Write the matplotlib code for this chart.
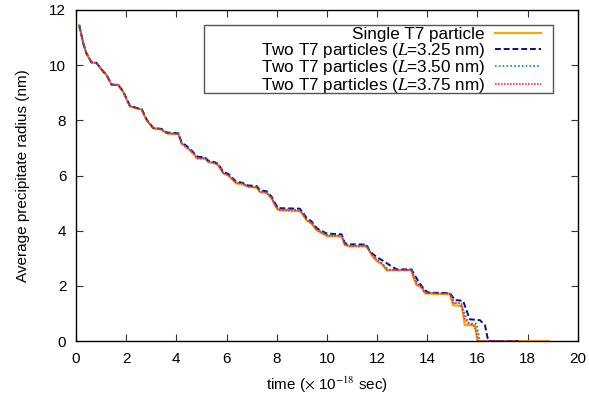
import matplotlib
matplotlib.use("Agg")
import matplotlib.pyplot as plt
from matplotlib.patches import Rectangle

plt.rcParams['font.family'] = ['Liberation Sans', 'DejaVu Sans']
plt.rcParams['mathtext.fontset'] = 'stix'

# ---- data (time in 1e-18 sec, radius in nm) ----
t_single = [0.13, 0.29, 0.42, 0.62, 0.82, 1.02, 1.22, 1.42, 1.69, 1.88, 2.15, 2.42, 2.62, 2.82,
            3.08, 3.41, 3.61, 4.08, 4.21, 4.34, 4.54, 4.74, 4.81, 5.14, 5.27, 5.54, 5.67, 5.87,
            6.07, 6.27, 6.40, 6.60, 6.87, 7.20, 7.33, 7.60, 7.80, 7.93, 8.06, 8.92, 9.06, 9.19,
            9.39, 9.59, 9.72, 9.99, 10.59, 10.72, 10.92, 11.58, 11.71, 11.85, 12.04, 12.18, 12.38,
            13.37, 13.44, 13.57, 13.77, 13.90, 14.90, 15.03, 15.37, 15.50, 15.90, 16.03, 18.85]
r_single = [11.45, 10.79, 10.42, 10.10, 10.08, 9.84, 9.64, 9.28, 9.28, 9.03, 8.51, 8.43, 8.39, 8.00,
            7.71, 7.67, 7.53, 7.50, 7.16, 7.07, 6.92, 6.74, 6.62, 6.62, 6.50, 6.44, 6.38, 6.08,
            6.01, 5.83, 5.71, 5.71, 5.59, 5.57, 5.41, 5.37, 5.17, 4.93, 4.75, 4.72, 4.57, 4.38,
            4.26, 4.02, 3.96, 3.82, 3.80, 3.48, 3.44, 3.44, 3.24, 3.03, 2.87, 2.81, 2.57,
            2.57, 2.33, 2.03, 1.97, 1.73, 1.70, 1.30, 1.27, 0.58, 0.58, 0.00, 0.00]

t_L325 = [0.13, 0.29, 0.42, 0.62, 0.82, 1.02, 1.22, 1.42, 1.69, 1.88, 2.15, 2.42, 2.62, 2.82,
          3.08, 3.41, 3.61, 4.08, 4.21, 4.34, 4.54, 4.74, 4.85, 5.14, 5.27, 5.54, 5.67, 5.87,
          6.07, 6.27, 6.40, 6.60, 6.87, 7.20, 7.33, 7.60, 7.80, 7.93, 8.06, 8.92, 9.06, 9.19,
          9.39, 9.59, 9.72, 9.99, 10.59, 10.72, 10.92, 11.58, 11.71, 11.98, 12.24, 12.51, 12.78,
          13.37, 13.50, 13.70, 13.90, 14.04, 14.90, 15.10, 15.43, 15.56, 15.70, 16.10, 16.30, 16.43, 17.65]
r_L325 = [11.45, 10.79, 10.42, 10.10, 10.08, 9.84, 9.64, 9.30, 9.28, 9.05, 8.53, 8.45, 8.41, 8.02,
          7.73, 7.69, 7.56, 7.53, 7.20, 7.12, 6.97, 6.78, 6.68, 6.66, 6.54, 6.48, 6.42, 6.13,
          6.06, 5.88, 5.76, 5.75, 5.64, 5.62, 5.47, 5.43, 5.23, 5.00, 4.82, 4.80, 4.64, 4.46,
          4.34, 4.10, 4.03, 3.90, 3.87, 3.54, 3.51, 3.50, 3.25, 3.05, 2.91, 2.75, 2.60,
          2.60, 2.39, 2.09, 1.85, 1.76, 1.74, 1.49, 1.46, 1.12, 0.79, 0.76, 0.58, 0.00, 0.00]

t_L350 = [0.13, 0.29, 0.42, 0.62, 0.82, 1.02, 1.22, 1.42, 1.69, 1.88, 2.15, 2.42, 2.62, 2.82,
          3.08, 3.41, 3.61, 4.08, 4.21, 4.34, 4.54, 4.74, 4.81, 5.14, 5.27, 5.54, 5.67, 5.87,
          6.07, 6.27, 6.40, 6.60, 6.87, 7.20, 7.33, 7.60, 7.80, 7.93, 8.06, 8.92, 9.06, 9.19,
          9.39, 9.59, 9.72, 9.99, 10.59, 10.72, 10.92, 11.58, 11.71, 11.90, 12.10, 12.30, 12.45,
          13.37, 13.47, 13.62, 13.82, 13.95, 14.90, 15.10, 15.30, 15.50, 15.63, 15.96, 16.10, 17.65]
r_L350 = [11.45, 10.79, 10.42, 10.10, 10.08, 9.84, 9.64, 9.29, 9.28, 9.04, 8.52, 8.44, 8.40, 8.01,
          7.72, 7.68, 7.54, 7.51, 7.18, 7.09, 6.94, 6.76, 6.64, 6.64, 6.52, 6.46, 6.40, 6.10,
          6.03, 5.85, 5.73, 5.73, 5.61, 5.59, 5.44, 5.40, 5.20, 4.96, 4.78, 4.76, 4.60, 4.42,
          4.30, 4.06, 3.99, 3.86, 3.83, 3.51, 3.47, 3.47, 3.25, 3.05, 2.90, 2.72, 2.59,
          2.59, 2.37, 2.08, 1.86, 1.75, 1.73, 1.37, 1.37, 1.00, 0.64, 0.64, 0.00, 0.00]

t_L375 = [0.13, 0.29, 0.42, 0.62, 0.82, 1.02, 1.22, 1.42, 1.69, 1.88, 2.15, 2.42, 2.62, 2.82,
          3.08, 3.41, 3.61, 4.08, 4.21, 4.34, 4.54, 4.74, 4.81, 5.14, 5.27, 5.54, 5.67, 5.87,
          6.07, 6.27, 6.40, 6.60, 6.87, 7.20, 7.33, 7.60, 7.80, 7.93, 8.06, 8.92, 9.06, 9.19,
          9.39, 9.59, 9.72, 9.99, 10.59, 10.72, 10.92, 11.58, 11.71, 11.87, 12.06, 12.20, 12.40,
          13.37, 13.45, 13.59, 13.79, 13.92, 14.90, 15.03, 15.37, 15.50, 15.90, 16.00, 17.65]
r_L375 = [11.45, 10.79, 10.42, 10.10, 10.08, 9.84, 9.64, 9.28, 9.28, 9.03, 8.51, 8.43, 8.39, 8.00,
          7.71, 7.67, 7.53, 7.50, 7.16, 7.07, 6.92, 6.74, 6.62, 6.62, 6.50, 6.44, 6.38, 6.08,
          6.01, 5.83, 5.71, 5.71, 5.59, 5.57, 5.41, 5.37, 5.17, 4.93, 4.75, 4.72, 4.57, 4.38,
          4.26, 4.02, 3.96, 3.82, 3.80, 3.48, 3.44, 3.44, 3.24, 3.04, 2.88, 2.80, 2.57,
          2.57, 2.34, 2.04, 1.97, 1.74, 1.72, 1.40, 1.36, 0.76, 0.52, 0.00, 0.00]

labels = ["Single T7 particle",
          r"Two T7 particles ($L$=3.25 nm)",
          r"Two T7 particles ($L$=3.50 nm)",
          r"Two T7 particles ($L$=3.75 nm)"]
x_ticks = [0, 2, 4, 6, 8, 10, 12, 14, 16, 18, 20]
y_ticks = [0, 2, 4, 6, 8, 10, 12]

fig = plt.figure(figsize=(5.89, 3.99), dpi=100)
ax = fig.add_axes([0.129, 0.145, 0.852, 0.830])

ax.plot(t_single, r_single, color='#ffa500', lw=1.6, ls='-', label=labels[0])
ax.plot(t_L325, r_L325, color='#0a0a96', lw=1.4, ls=(0, (3, 1.5)), label=labels[1])
ax.plot(t_L350, r_L350, color='#009090', lw=1.2, ls=(0, (1, 1.3)), label=labels[2])
ax.plot(t_L375, r_L375, color='#ff2a4a', lw=1.2, ls=(0, (1, 0.8)), label=labels[3])

ax.set_xlim(0, 20)
ax.set_ylim(0, 12)
ax.set_xticks(x_ticks)
ax.set_yticks(y_ticks)
ax.tick_params(direction='in', top=True, right=True, length=5, width=0.8,
               labelsize=11, color='#333333')
ax.tick_params(axis='x', pad=8)
ax.tick_params(axis='y', pad=7)
for s in ax.spines.values():
    s.set_linewidth(1.0)

ax.set_xlabel(r"time ($\times$ 10$^{-18}$ sec)", fontsize=11, labelpad=6)
ax.set_ylabel("Average precipitate radius (nm)", fontsize=11, labelpad=14)

# gnuplot-style key box
ax.add_patch(Rectangle((0.255, 0.749), 0.695, 0.206, transform=ax.transAxes,
                       fill=False, edgecolor='#555555', lw=1.0, zorder=5))

leg = ax.legend(loc='upper right', bbox_to_anchor=(0.927, 0.948), markerfirst=False,
                fontsize=12.3, frameon=False,
                handlelength=2.7, labelspacing=-0.09, borderpad=0.0, handletextpad=0.6,
                borderaxespad=0.0)
for t in leg.get_texts():
    t.set_ha('right')
leg._legend_box.align = 'right'

fig.savefig("out.png", dpi=100)
